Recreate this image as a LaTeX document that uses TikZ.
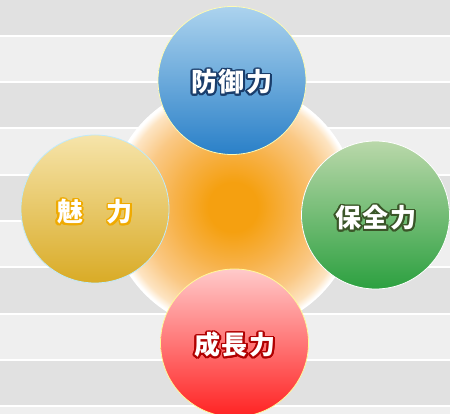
\documentclass[tikz,border=0pt]{standalone}
\usepackage{fontspec}
\newfontfamily\jp{Noto Sans CJK JP}[LetterSpace=6]
\usetikzlibrary{calc}
\definecolor{bandA}{HTML}{E1E1E1}
\definecolor{bandB}{HTML}{EFEFEF}
\definecolor{gc0}{HTML}{F5A010}
\definecolor{gc1}{HTML}{F7B24A}
\definecolor{gc2}{HTML}{FAC884}
\definecolor{gc3}{HTML}{FDE4C2}
\definecolor{blueT}{HTML}{ACD3EE}
\definecolor{blueM}{HTML}{5A9AD8}
\definecolor{blueB}{HTML}{2A80C8}
\definecolor{blueO}{HTML}{1A3D6B}
\definecolor{yelT}{HTML}{F6E4AA}
\definecolor{yelM}{HTML}{E6C25A}
\definecolor{yelB}{HTML}{D9AB26}
\definecolor{yelO}{HTML}{F0AA00}
\definecolor{grnT}{HTML}{BAD8AA}
\definecolor{grnM}{HTML}{62B264}
\definecolor{grnB}{HTML}{2CA040}
\definecolor{grnO}{HTML}{3A5528}
\definecolor{redT}{HTML}{FFCACA}
\definecolor{redM}{HTML}{FF6666}
\definecolor{redB}{HTML}{FF2222}
\definecolor{redO}{HTML}{B00000}
\pgfdeclareradialshading{glow}{\pgfpoint{0bp}{0bp}}{color(0bp)=(gc0); color(5bp)=(gc0); color(12bp)=(gc1); color(18.5bp)=(gc2); color(23bp)=(gc3); color(24.6bp)=(white); color(25bp)=(white); color(50bp)=(white)}
\newcommand\outl[3]{%
  \foreach \a in {0,22.5,...,337.5}{%
    \pgfmathsetlengthmacro\dx{#2*cos(\a)}\pgfmathsetlengthmacro\dy{#2*sin(\a)}%
    \rlap{\hspace*{\dx}\raisebox{\dy}{\textcolor{#1}{#3}}}}%
  \textcolor{white}{#3}}
\tikzset{
  ball/.style={circle, minimum size=148pt, inner sep=0pt, line width=0.8pt},
  lbl/.style={inner sep=0pt, font=\jp\bfseries\fontsize{26}{30}\selectfont}
}
\begin{document}
\begin{tikzpicture}[x=1pt,y=-1pt]
\useasboundingbox (0,0) rectangle (450,414);
\fill[white] (0,0) rectangle (450,414);
\foreach \i in {0,...,9}{%
  \pgfmathsetmacro\ya{-10.25+46.25*\i+1}
  \pgfmathsetmacro\yb{36+46.25*\i-1}
  \pgfmathparse{mod(\i,2)==0 ? "bandA" : "bandB"}
  \fill[\pgfmathresult] (0,\ya) rectangle (450,\yb);
}
\node[circle, minimum size=248pt, inner sep=0pt, shading=glow] (glow) at (233,207) {};
\node[ball, shading=axis, top color=blueT, middle color=blueM, bottom color=blueB, draw=yellow!30] (blue) at (232,80.5) {};
\node[ball, shading=axis, top color=yelT, middle color=yelM, bottom color=yelB, draw=cyan!25] (yel) at (95,209) {};
\node[ball, shading=axis, top color=grnT, middle color=grnM, bottom color=grnB, draw=white] (grn) at (375.5,215) {};
\node[ball, shading=axis, top color=redT, middle color=redM, bottom color=redB, draw=yellow!40] (red) at (234.5,343) {};
\node[lbl] (tblue) at (232,82) {\outl{blueO}{1.8}{防御力}};
\node[lbl] (tyel) at (95,212) {\outl{yelO}{1.8}{魅　\kern-4pt力}};
\node[lbl] (tgrn) at (376,218) {\outl{grnO}{1.8}{保全力}};
\node[lbl] (tred) at (235,345) {\outl{redO}{1.8}{成長力}};
\end{tikzpicture}
\end{document}
